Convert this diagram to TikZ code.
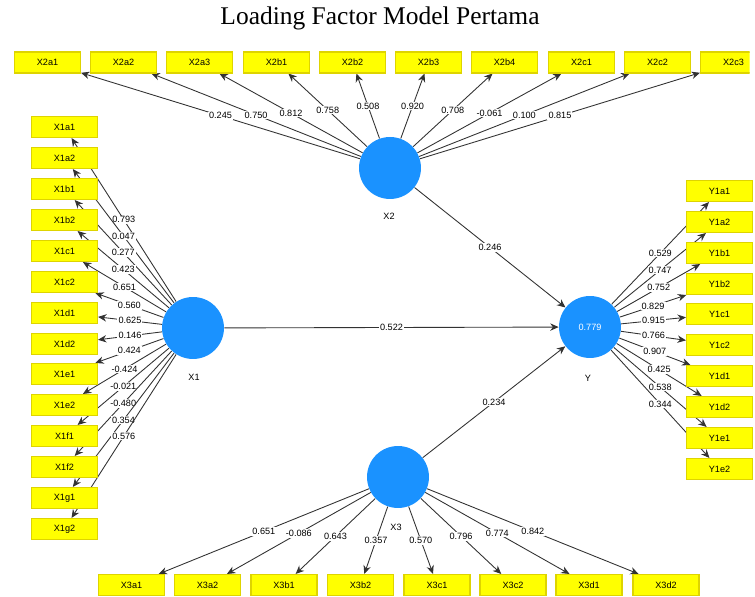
\documentclass[tikz,border=0pt]{standalone}
\usepackage{fontspec}
\setmainfont{Liberation Serif}
\newfontfamily\pls{Liberation Sans}
\usetikzlibrary{arrows.meta}
\definecolor{LvBlue}{RGB}{26,146,255}
\definecolor{IndYellow}{RGB}{255,255,0}
\definecolor{IndEdge}{RGB}{222,212,0}
\definecolor{LineGray}{RGB}{50,50,50}
\pgfdeclarelayer{bg}
\pgfsetlayers{bg,main}
\tikzset{
	lv/.style={circle,fill=LvBlue,minimum size=1.24cm,inner sep=0pt,font=\pls\fontsize{5.2}{6}\selectfont,text=white},
	ind/.style={rectangle,draw=IndEdge,fill=IndYellow,line width=0.6pt,minimum width=1.32cm,minimum height=0.42cm,inner sep=0pt,font=\pls\fontsize{5.2}{6}\selectfont},
	lvname/.style={font=\pls\fontsize{5.2}{6}\selectfont},
	load/.style={draw=LineGray,line width=0.5pt,-{Stealth[length=4.8pt,width=4.2pt]}},
	coef/.style={fill=white,inner sep=0.6pt,font=\pls\fontsize{5.2}{6}\selectfont},
}
\begin{document}
\begin{tikzpicture}[x=0.02cm,y=-0.02cm]
			\useasboundingbox (0,0) rectangle (755,597);
			\node[font=\fontsize{14.5}{16}\selectfont] (title) at (380,18) {Loading Factor Model Pertama};
			% latent variables
			\node[lv] (X1) at (193,328) {};
			\node[lv] (X2) at (390,168) {};
			\node[lv] (Y) at (590,327) {0.779};
			\node[lv] (X3) at (398,477) {};
			\node[lvname] (nX1) at (194,377) {X1};
			\node[lvname] (nX2) at (389,216) {X2};
			\node[lvname] (nY) at (588,378) {Y};
			\node[lvname] (nX3) at (396,527) {X3};
			% indicators of X2
			\node[ind] (X2a1) at (47.5,62.5) {X2a1};
			\node[ind] (X2a2) at (123.5,62.5) {X2a2};
			\node[ind] (X2a3) at (199.5,62.5) {X2a3};
			\node[ind] (X2b1) at (276.5,62.5) {X2b1};
			\node[ind] (X2b2) at (352.5,62.5) {X2b2};
			\node[ind] (X2b3) at (428.5,62.5) {X2b3};
			\node[ind] (X2b4) at (504.5,62.5) {X2b4};
			\node[ind] (X2c1) at (581.5,62.5) {X2c1};
			\node[ind] (X2c2) at (657.5,62.5) {X2c2};
			\begin{scope}
				\clip (690,40) rectangle (749.5,90);
				\node[ind] (X2c3) at (733.5,62.5) {X2c3};
			\end{scope}
			% indicators of X1
			\node[ind] (X1a1) at (64.5,127) {X1a1};
			\node[ind] (X1a2) at (64.5,158) {X1a2};
			\node[ind] (X1b1) at (64.5,189) {X1b1};
			\node[ind] (X1b2) at (64.5,220) {X1b2};
			\node[ind] (X1c1) at (64.5,251) {X1c1};
			\node[ind] (X1c2) at (64.5,282) {X1c2};
			\node[ind] (X1d1) at (64.5,313) {X1d1};
			\node[ind] (X1d2) at (64.5,344) {X1d2};
			\node[ind] (X1e1) at (64.5,374) {X1e1};
			\node[ind] (X1e2) at (64.5,405) {X1e2};
			\node[ind] (X1f1) at (64.5,436) {X1f1};
			\node[ind] (X1f2) at (64.5,467) {X1f2};
			\node[ind] (X1g1) at (64.5,498) {X1g1};
			\node[ind] (X1g2) at (64.5,529) {X1g2};
			% indicators of Y
			\node[ind] (Y1a1) at (719.5,191) {Y1a1};
			\node[ind] (Y1a2) at (719.5,222) {Y1a2};
			\node[ind] (Y1b1) at (719.5,253) {Y1b1};
			\node[ind] (Y1b2) at (719.5,284) {Y1b2};
			\node[ind] (Y1c1) at (719.5,314) {Y1c1};
			\node[ind] (Y1c2) at (719.5,345) {Y1c2};
			\node[ind] (Y1d1) at (719.5,376) {Y1d1};
			\node[ind] (Y1d2) at (719.5,407) {Y1d2};
			\node[ind] (Y1e1) at (719.5,438) {Y1e1};
			\node[ind] (Y1e2) at (719.5,469) {Y1e2};
			% indicators of X3
			\node[ind] (X3a1) at (131.5,585) {X3a1};
			\node[ind] (X3a2) at (207.5,585) {X3a2};
			\node[ind] (X3b1) at (284,585) {X3b1};
			\node[ind] (X3b2) at (360.5,585) {X3b2};
			\node[ind] (X3c1) at (437,585) {X3c1};
			\node[ind] (X3c2) at (513,585) {X3c2};
			\node[ind] (X3d1) at (589,585) {X3d1};
			\node[ind] (X3d2) at (666,585) {X3d2};
			\begin{pgfonlayer}{bg}
			% loadings X2
			\draw[load] (X2) -- node[coef] {0.245} (X2a1);
			\draw[load] (X2) -- node[coef] {0.750} (X2a2);
			\draw[load] (X2) -- node[coef] {0.812} (X2a3);
			\draw[load] (X2) -- node[coef] {0.758} (X2b1);
			\draw[load] (X2) -- node[coef] {0.508} (X2b2);
			\draw[load] (X2) -- node[coef] {0.920} (X2b3);
			\draw[load] (X2) -- node[coef] {0.708} (X2b4);
			\draw[load] (X2) -- node[coef] {-0.061} (X2c1);
			\draw[load] (X2) -- node[coef] {0.100} (X2c2);
			\draw[load] (X2) -- node[coef] {0.815} (X2c3);
			% loadings X1
			\draw[load] (X1) -- node[coef] {0.793} (X1a1);
			\draw[load] (X1) -- node[coef] {0.047} (X1a2);
			\draw[load] (X1) -- node[coef] {0.277} (X1b1);
			\draw[load] (X1) -- node[coef] {0.423} (X1b2);
			\draw[load] (X1) -- node[coef] {0.651} (X1c1);
			\draw[load] (X1) -- node[coef] {0.560} (X1c2);
			\draw[load] (X1) -- node[coef] {0.625} (X1d1);
			\draw[load] (X1) -- node[coef] {0.146} (X1d2);
			\draw[load] (X1) -- node[coef] {0.424} (X1e1);
			\draw[load] (X1) -- node[coef] {-0.424} (X1e2);
			\draw[load] (X1) -- node[coef] {-0.021} (X1f1);
			\draw[load] (X1) -- node[coef] {-0.480} (X1f2);
			\draw[load] (X1) -- node[coef] {0.354} (X1g1);
			\draw[load] (X1) -- node[coef] {0.576} (X1g2);
			% loadings Y
			\draw[load] (Y) -- node[coef] {0.529} (Y1a1);
			\draw[load] (Y) -- node[coef] {0.747} (Y1a2);
			\draw[load] (Y) -- node[coef] {0.752} (Y1b1);
			\draw[load] (Y) -- node[coef] {0.829} (Y1b2);
			\draw[load] (Y) -- node[coef] {0.915} (Y1c1);
			\draw[load] (Y) -- node[coef] {0.766} (Y1c2);
			\draw[load] (Y) -- node[coef] {0.907} (Y1d1);
			\draw[load] (Y) -- node[coef] {0.425} (Y1d2);
			\draw[load] (Y) -- node[coef] {0.538} (Y1e1);
			\draw[load] (Y) -- node[coef] {0.344} (Y1e2);
			% loadings X3
			\draw[load] (X3) -- node[coef] {0.651} (X3a1);
			\draw[load] (X3) -- node[coef] {-0.086} (X3a2);
			\draw[load] (X3) -- node[coef] {0.643} (X3b1);
			\draw[load] (X3) -- node[coef] {0.357} (X3b2);
			\draw[load] (X3) -- node[coef] {0.570} (X3c1);
			\draw[load] (X3) -- node[coef] {0.796} (X3c2);
			\draw[load] (X3) -- node[coef] {0.774} (X3d1);
			\draw[load] (X3) -- node[coef] {0.842} (X3d2);
			% structural paths
			\draw[load] (X1) -- node[coef] {0.522} (Y);
			\draw[load] (X2) -- node[coef] {0.246} (Y);
			\draw[load] (X3) -- node[coef] {0.234} (Y);
			\end{pgfonlayer}
		\end{tikzpicture}
\end{document}
